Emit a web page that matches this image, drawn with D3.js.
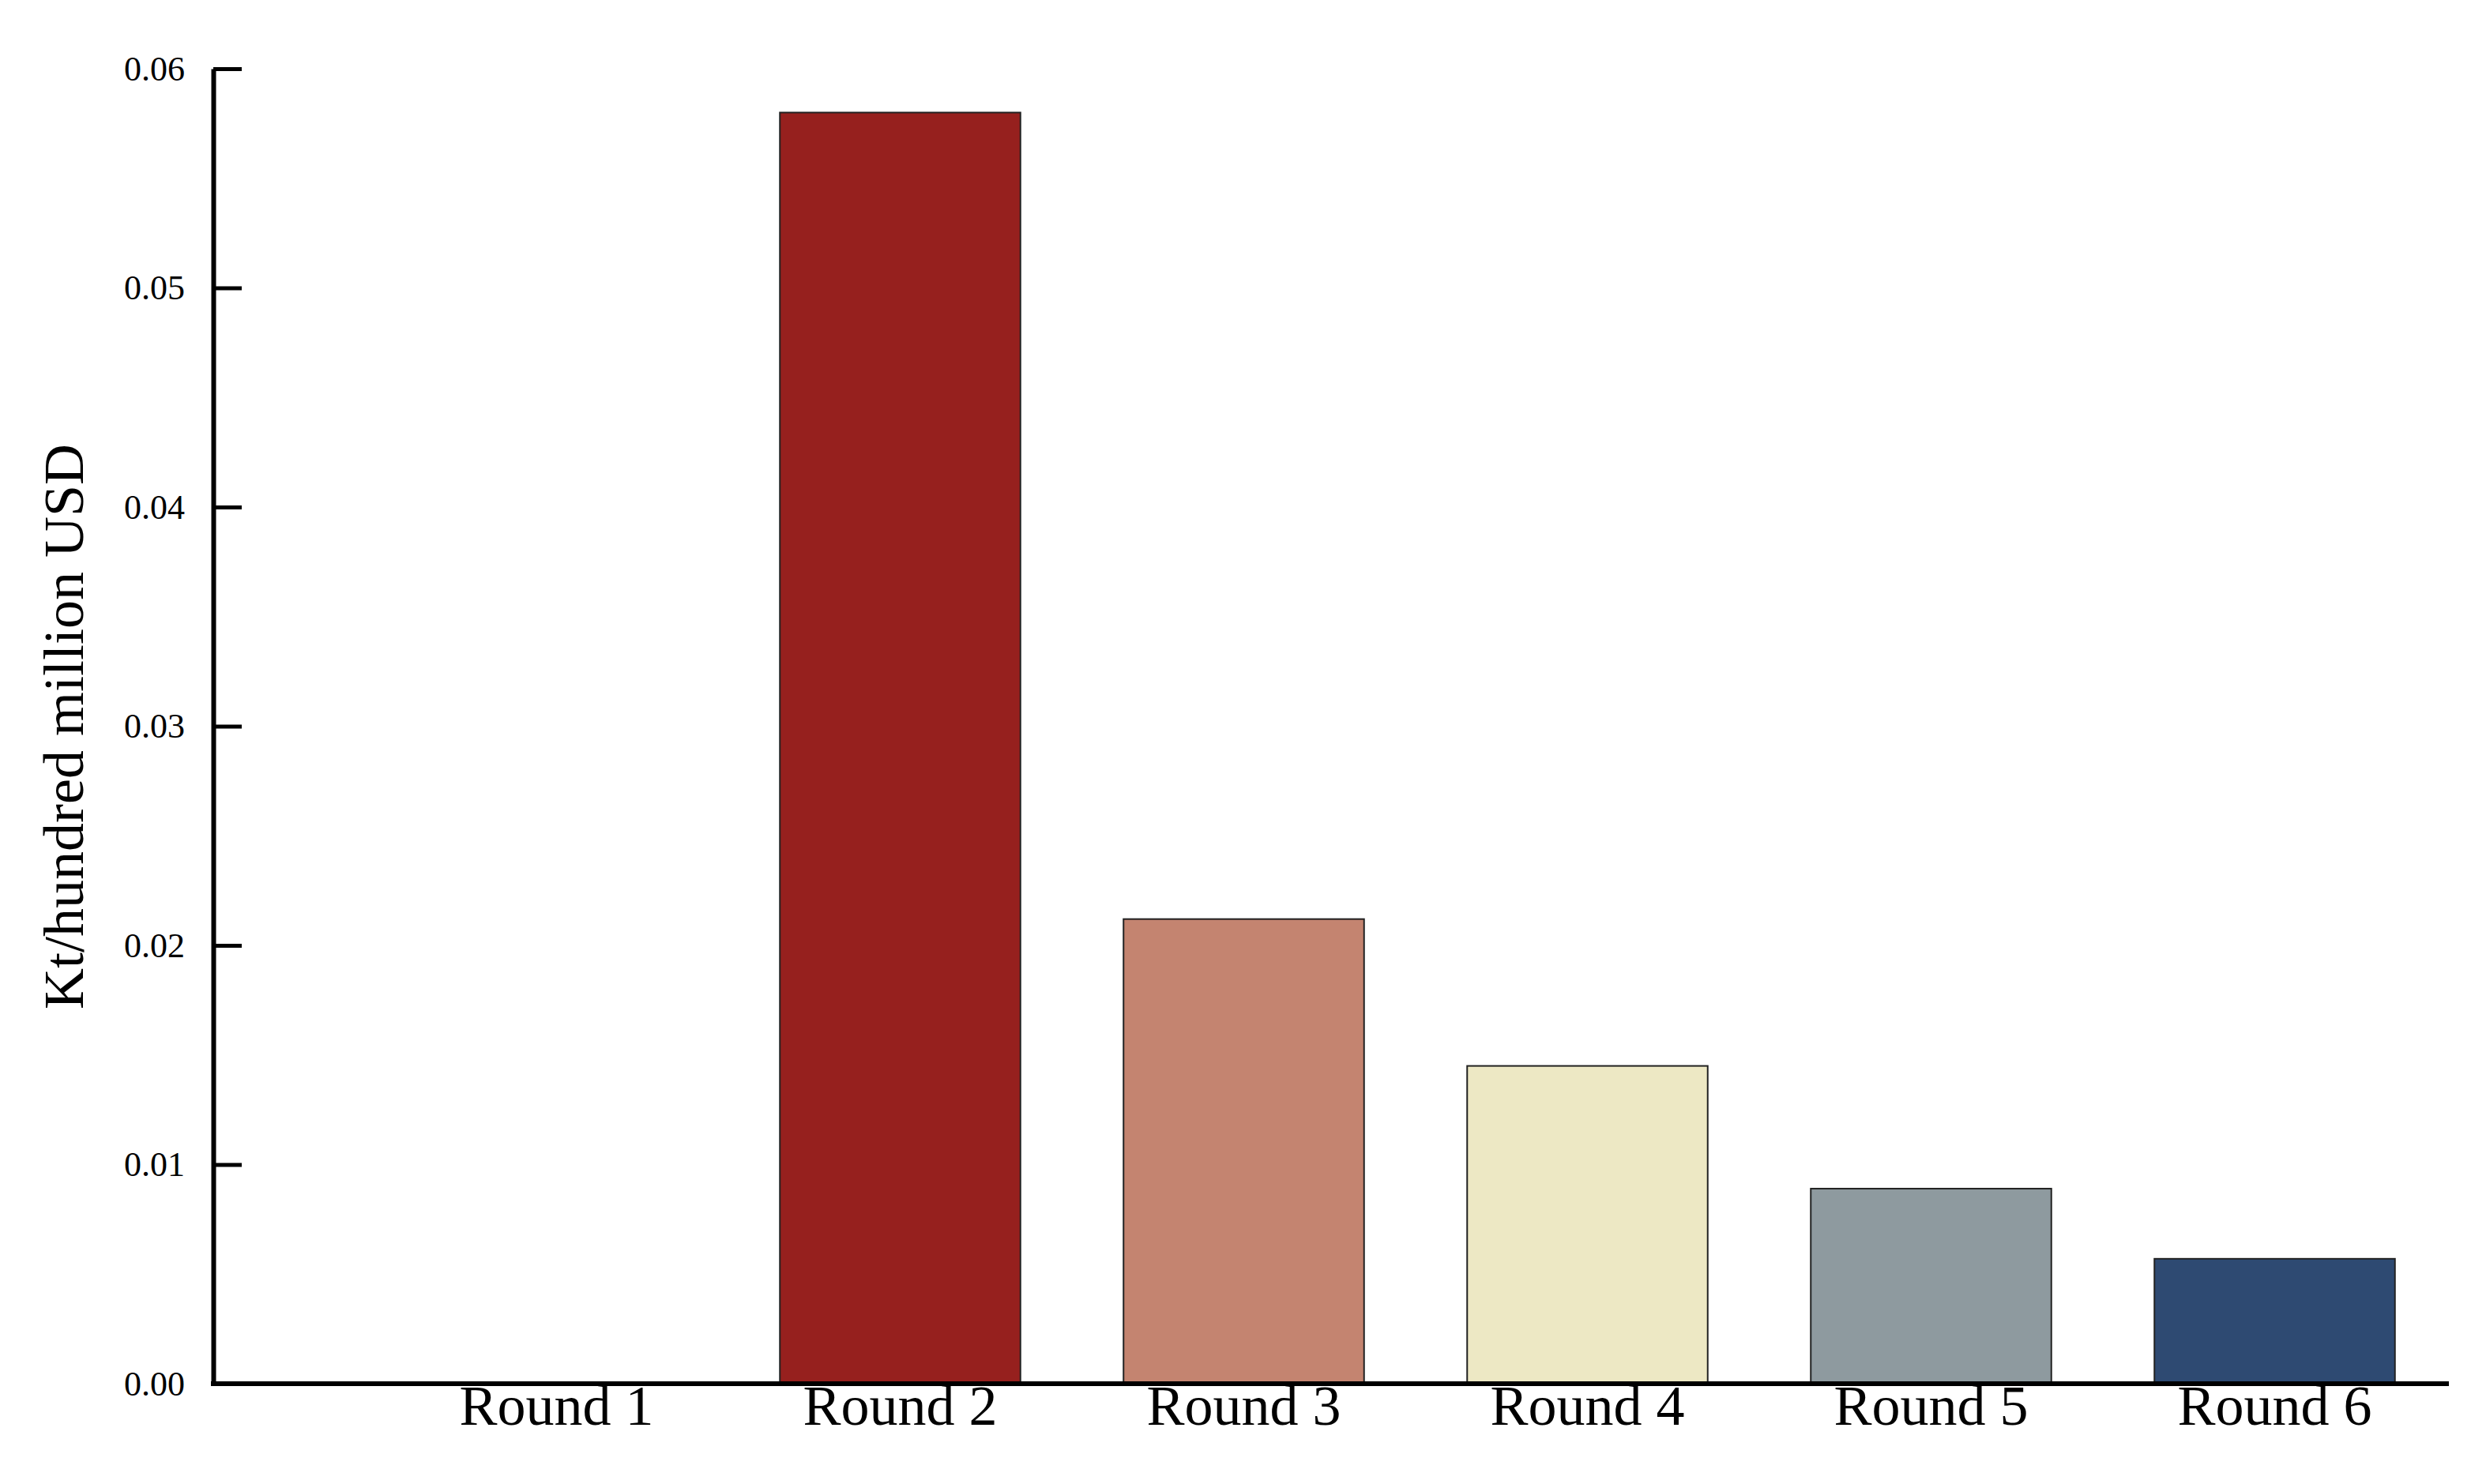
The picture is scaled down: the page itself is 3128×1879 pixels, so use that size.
<!DOCTYPE html>
<html><head><meta charset="utf-8">
<script src="https://cdn.jsdelivr.net/npm/d3@7"></script>
<style>body{margin:0;background:#fff}</style>
</head><body>
<svg id="c" width="3128" height="1879"></svg>
<script>
var rounds = ["Round 1","Round 2","Round 3","Round 4","Round 5","Round 6"];
var values = [0, 0.058, 0.0212, 0.0145, 0.0089, 0.0057];
var colors = ["#ffffff","#96201e","#c48470","#ede8c4","#8e9a9f","#2e4a72"];
var yTicks = [0, 0.01, 0.02, 0.03, 0.04, 0.05, 0.06];

var svg = d3.select("#c");
var x = d3.scaleBand().domain(rounds).range([487, 3097]).paddingInner(0.3).paddingOuter(0.15);
var y = d3.scaleLinear().domain([0, 0.06]).range([1752, 87]);

svg.selectAll("rect.bar").data(values).enter()
    .append("rect").attr("class","bar")
    .attr("x", function(d,i){ return x(rounds[i]); })
    .attr("width", x.bandwidth())
    .attr("y", function(d){ return y(d); })
    .attr("height", function(d){ return y(0) - y(d); })
    .attr("fill", function(d,i){ return colors[i]; })
    .attr("stroke", function(d){ return d > 0 ? "#222" : "none"; })
    .attr("stroke-width", 2);

var ya = svg.append("g").attr("transform","translate(270,0)")
    .call(d3.axisRight(y).tickValues(yTicks).tickFormat(d3.format(".2f")).tickSize(36).tickSizeOuter(0));
ya.select(".domain").attr("stroke-width", 6);
ya.selectAll(".tick line").attr("stroke-width", 5);
ya.selectAll(".tick text").attr("x", -36).attr("text-anchor","end")
    .style("font-family","Liberation Serif").style("font-size","44px");

var xa = svg.append("g").attr("transform","translate(0,1752)")
    .call(d3.axisBottom(x).tickSize(0).tickSizeOuter(0));
xa.select(".domain").attr("d","M267,0H3100").attr("stroke-width", 6);
xa.selectAll(".tick text").attr("dy", "0.3em").attr("y", 30)
    .style("font-family","Liberation Serif").style("font-size","72px");

svg.append("text")
    .attr("transform","translate(105,920) rotate(-90)")
    .attr("text-anchor","middle")
    .style("font-family","Liberation Serif").style("font-size","72px")
    .text("Kt/hundred million USD");
</script>
</body></html>
